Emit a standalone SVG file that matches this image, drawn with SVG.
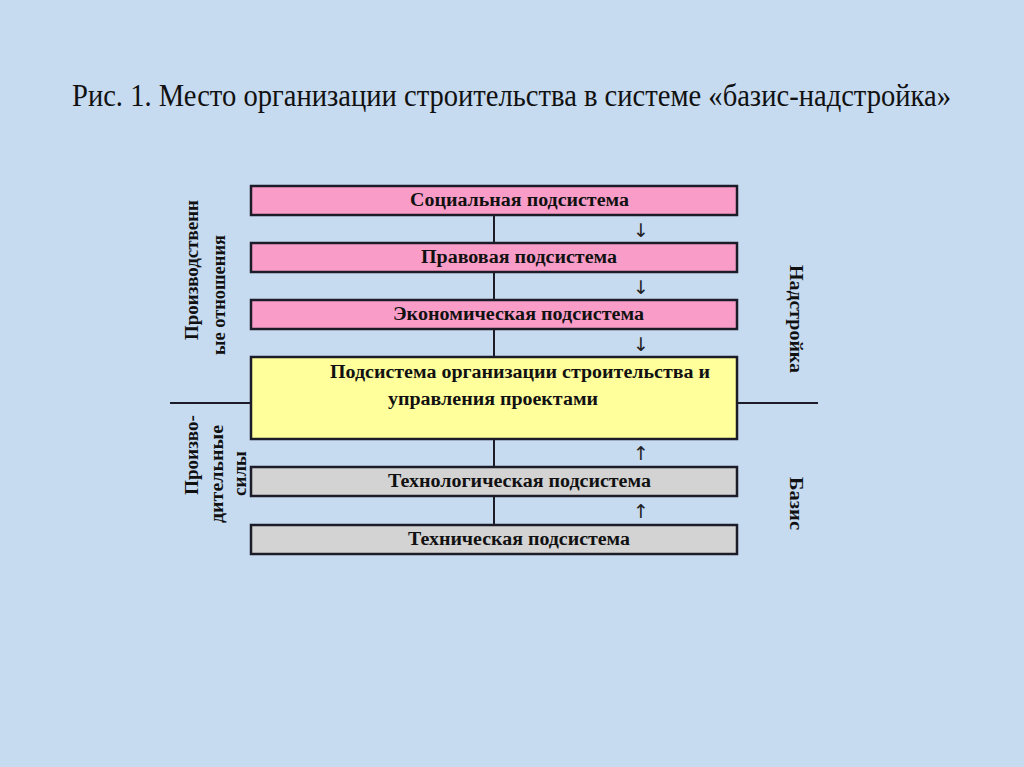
<svg xmlns="http://www.w3.org/2000/svg" width="1024" height="767" viewBox="0 0 1024 767">
<style>
.box{stroke:#1c1c28;stroke-width:2.5}
.pink{fill:#F99DC8}
.gray{fill:#D3D3D3}
.yellow{fill:#FFFF9C}
.bt{font-family:"Liberation Serif",serif;font-weight:bold;font-size:18px;fill:#111;text-anchor:middle}
.side{font-family:"Liberation Serif",serif;font-weight:bold;font-size:19px;fill:#111;text-anchor:middle}
.arr{font-family:"DejaVu Sans",sans-serif;font-size:19px;fill:#222;text-anchor:middle}
.ln{stroke:#1c1c28;stroke-width:2;fill:none}
</style>
<rect width="1024" height="767" fill="#C6DAF0"/>
<text x="72" y="106" font-family="Liberation Serif,serif" font-size="31" fill="#111" textLength="879" lengthAdjust="spacingAndGlyphs">Рис. 1. Место организации строительства в системе «базис-надстройка»</text>
<g id="connectors">
<line class="ln" x1="494" y1="215" x2="494" y2="243"/>
<line class="ln" x1="494" y1="272" x2="494" y2="300"/>
<line class="ln" x1="494" y1="329" x2="494" y2="357"/>
<line class="ln" x1="494" y1="439" x2="494" y2="467"/>
<line class="ln" x1="494" y1="496" x2="494" y2="525"/>
<line class="ln" x1="170" y1="403" x2="251" y2="403"/>
<line class="ln" x1="737" y1="403" x2="818" y2="403"/>
<text class="arr" x="641" y="237">↓</text>
<text class="arr" x="641" y="294">↓</text>
<text class="arr" x="641" y="351">↓</text>
<text class="arr" x="641" y="460">↑</text>
<text class="arr" x="641" y="518">↑</text>
</g>
<g id="social"><rect class="box pink" x="251" y="186" width="486" height="29"/><text class="bt" x="519.5" y="206" textLength="219" lengthAdjust="spacingAndGlyphs">Социальная подсистема</text></g>
<g id="legal"><rect class="box pink" x="251" y="243" width="486" height="29"/><text class="bt" x="519" y="263" textLength="196" lengthAdjust="spacingAndGlyphs">Правовая подсистема</text></g>
<g id="economic"><rect class="box pink" x="251" y="300" width="486" height="29"/><text class="bt" x="518.5" y="320" textLength="251" lengthAdjust="spacingAndGlyphs">Экономическая подсистема</text></g>
<g id="construction"><rect class="box yellow" x="251" y="357" width="486" height="82"/><text class="bt" x="520" y="378" textLength="380" lengthAdjust="spacingAndGlyphs">Подсистема организации строительства и</text><text class="bt" x="493" y="405" textLength="210" lengthAdjust="spacingAndGlyphs">управления проектами</text></g>
<g id="technological"><rect class="box gray" x="251" y="467" width="486" height="29"/><text class="bt" x="519.5" y="487" textLength="263" lengthAdjust="spacingAndGlyphs">Технологическая подсистема</text></g>
<g id="technical"><rect class="box gray" x="251" y="525" width="486" height="29"/><text class="bt" x="519" y="545" textLength="222" lengthAdjust="spacingAndGlyphs">Техническая подсистема</text></g>
<g id="labels-left">
<text class="side" transform="translate(198,270) rotate(-90)" textLength="140" lengthAdjust="spacingAndGlyphs">Производственн</text>
<text class="side" transform="translate(225,295) rotate(-90)" textLength="120" lengthAdjust="spacingAndGlyphs">ые отношения</text>
<text class="side" transform="translate(198,455) rotate(-90)" textLength="80" lengthAdjust="spacingAndGlyphs">Произво-</text>
<text class="side" transform="translate(223,474) rotate(-90)" textLength="98" lengthAdjust="spacingAndGlyphs">дительные</text>
<text class="side" transform="translate(246,473.5) rotate(-90)" font-size="15">силы</text>
</g>
<g id="labels-right">
<text class="side" transform="translate(790,319) rotate(90)" textLength="108" lengthAdjust="spacingAndGlyphs">Надстройка</text>
<text class="side" transform="translate(790,503.5) rotate(90)" textLength="53" lengthAdjust="spacingAndGlyphs">Базис</text>
</g>
</svg>
